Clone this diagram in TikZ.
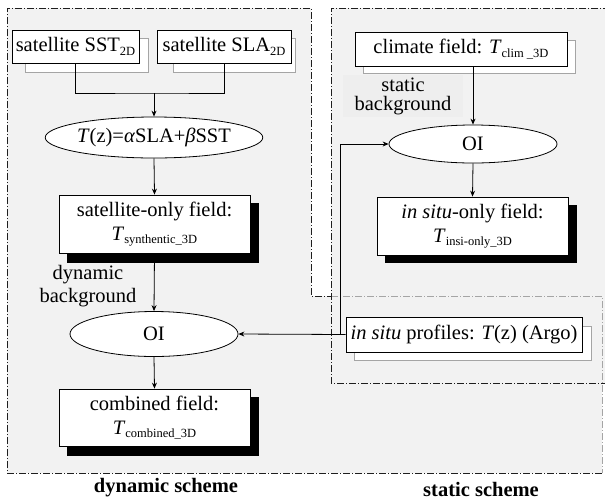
\documentclass[tikz,border=0pt]{standalone}
\usepackage{fontspec}
\setmainfont{Liberation Serif}
\usetikzlibrary{arrows.meta,shapes.geometric,calc}
\definecolor{bgc}{RGB}{242,242,242}
\definecolor{sbg}{RGB}{238,238,238}
\definecolor{edge}{RGB}{30,30,30}
\definecolor{ledge}{RGB}{165,165,165}
\newcommand{\mysub}[1]{\raisebox{-0.35ex}{\fontsize{12.5}{13}\selectfont #1}}
\begin{document}
\begin{tikzpicture}[x=1pt,y=-1pt,
  font=\fontsize{20.5}{24}\selectfont,
  box/.style={draw=black, fill=white, line width=0.8pt, inner sep=0pt, align=center, rectangle},
  oval/.style={draw=black, fill=white, ellipse, inner sep=0pt, line width=0.8pt},
  gshadow/.style={draw=ledge, fill=white, line width=0.8pt},
  bshadow/.style={fill=black},
  conn/.style={line width=0.8pt},
  arr/.style={conn, -{Stealth[length=6pt,width=5pt]}},
  region/.style={line width=0.8pt, dash pattern=on 7pt off 2pt on 1pt off 2pt},
  caption/.style={inner sep=0pt, font=\fontsize{20.5}{24}\selectfont\bfseries}
]
\useasboundingbox (0,0) rectangle (605,499);
% regions
\fill[bgc] (7,8) -- (311,8) -- (311,296) -- (602,296) -- (602,473) -- (7,473) -- cycle;
\fill[bgc] (331,8) rectangle (610,383);
\draw[region, draw=edge] (602,473) -- (7,473) -- (7,8) -- (311,8) -- (311,296) -- (331,296);
\draw[region, draw=ledge] (331,296) -- (602,296) -- (602,473);
\draw[region, draw=edge] (610,8) -- (331,8) -- (331,383) -- (610,383);
% shadows
\draw[gshadow] (25,38) rectangle (148,72);
\draw[gshadow] (173,38) rectangle (295,72);
\fill[bshadow] (67,203) rectangle (259,263);
\fill[bshadow] (67,397) rectangle (259,456);
\draw[gshadow] (363,40) rectangle (575,73);
\fill[bshadow] (385,205) rectangle (577,263);
\draw[gshadow] (354,326) rectangle (591,360);
% nodes
\node[box, minimum width=127pt, minimum height=33pt] (sst) at (75.5,46.5) {satellite SST\mysub{2D}};
\node[box, minimum width=134pt, minimum height=33pt] (sla) at (224,46.5) {satellite SLA\mysub{2D}};
\node[oval, minimum width=167pt, minimum height=41pt] (eq) at (154,137.5) {\textit{T}(z)=\textit{α}SLA+\textit{β}SST};
\node[box, minimum width=191pt, minimum height=58pt] (synth) at (154.5,224) {satellite-only field:\\\textit{T}\mysub{synthentic\_3D}};
\node[oval, minimum width=168pt, minimum height=45pt] (oid) at (154,334) {OI};
\node[box, minimum width=191pt, minimum height=57pt] (comb) at (154.5,417.5) {combined field:\\\textit{T}\mysub{combined\_3D}};
\node[box, minimum width=212pt, minimum height=34pt] (clim) at (461,49) {climate field: \textit{T}\mysub{clim \_3D}};
\node[oval, minimum width=168pt, minimum height=38pt] (ois) at (473,144) {OI};
\node[box, minimum width=191pt, minimum height=58pt] (iso) at (472.5,226) {\textit{in situ}-only field:\\\textit{T}\mysub{insi-only\_3D}};
\node[box, minimum width=236pt, minimum height=35pt] (argo) at (464,334.5) {\textit{in situ} profiles: \textit{T}(z) (Argo)};
\node[fill=sbg, minimum width=120pt, minimum height=42pt, inner sep=0pt, align=center, font=\fontsize{20.5}{19}\selectfont] (sbk) at (403,96) {static\\background};
\node[inner sep=0pt, align=center, font=\fontsize{20.5}{23}\selectfont] (dbk) at (88,286) {dynamic\\background};
\node[caption] (dsch) at (166,488) {dynamic scheme};
\node[caption] (ssch) at (481,489) {static scheme};
% connectors
\coordinate (j) at (154,93);
\draw[conn] (sst.south) |- (j) -| (sla.south);
\draw[arr] (j) -- (eq.north);
\draw[arr] (eq.south) -- (synth.north);
\draw[arr] (synth.south) -- (oid.north);
\draw[arr] (oid.south) -- (comb.north);
\draw[arr] (argo.west) -- (oid.east);
\coordinate (k) at (340,334.5);
\draw[arr] (k) |- (ois.west);
\draw[arr] (ois.north |- clim.south) -- (ois.north);
\draw[arr] (ois.south) -- (iso.north);
\end{tikzpicture}
\end{document}
